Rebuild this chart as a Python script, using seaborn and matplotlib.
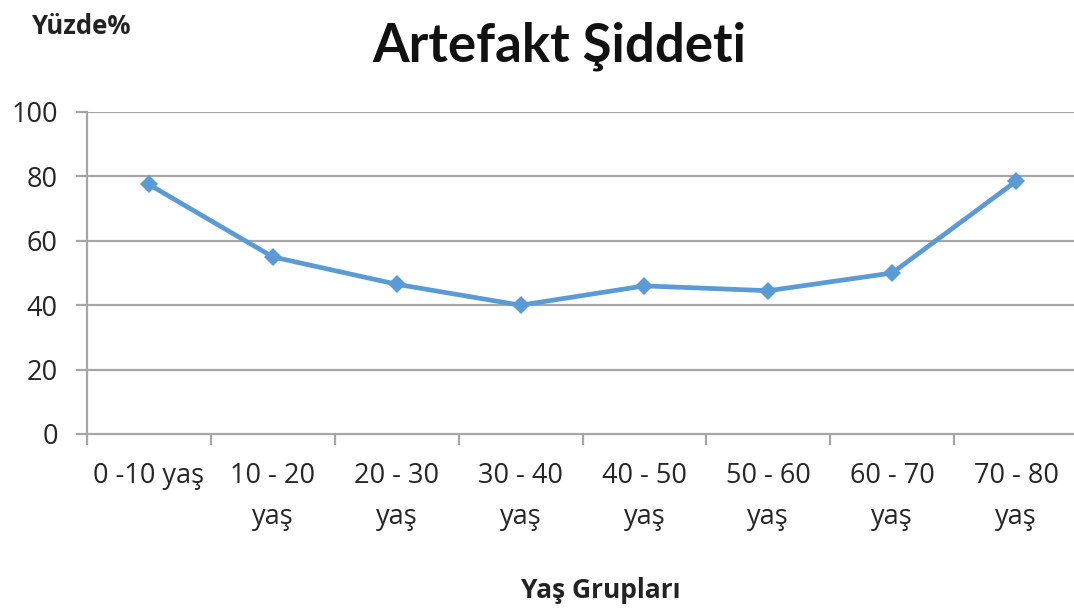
import matplotlib
matplotlib.use("Agg")
import matplotlib.pyplot as plt
import seaborn as sns
import pandas as pd

# Age groups and artefact severity percentages
age_groups = ["0 -10 yaş", "10 - 20\nyaş", "20 - 30\nyaş", "30 - 40\nyaş",
              "40 - 50\nyaş", "50 - 60\nyaş", "60 - 70\nyaş", "70 - 80\nyaş"]
severity = [77.5, 55, 46.5, 40, 46, 44.5, 50, 78.5]
y_ticks = [0, 20, 40, 60, 80, 100]

sns.set_theme(style="white")
plt.rcParams["font.family"] = ["Open Sans", "DejaVu Sans"]

df = pd.DataFrame({"pos": range(len(age_groups)), "value": severity})

fig = plt.figure(figsize=(10.74, 6.08), dpi=100)
ax = fig.add_axes([87 / 1074, 1 - 434 / 608, (1078 - 87) / 1074, (434 - 112) / 608])

grid_color = "#a6a6a6"
text_color = "#262626"
for y in y_ticks[1:]:
    ax.axhline(y, color=grid_color, lw=1.6, zorder=0)

sns.lineplot(data=df, x="pos", y="value", ax=ax, color="#5b9bd5", lw=3.4,
             marker="D", markersize=9, markeredgewidth=0, zorder=3)

ax.set_xlim(-0.5, len(age_groups) - 0.5)
ax.set_ylim(0, 100)
ax.set_yticks(y_ticks)
ax.set_yticklabels([str(v) for v in y_ticks], fontsize=19.5, color=text_color)

# category boundaries carry tick marks, labels sit at the centres
ax.set_xticks([i - 0.5 for i in range(len(age_groups) + 1)])
ax.set_xticklabels([])
ax.set_xticks(range(len(age_groups)), minor=True)
ax.set_xticklabels(age_groups, minor=True, fontsize=19.5, color=text_color,
                   linespacing=1.62, va="top")
ax.tick_params(axis="x", which="major", length=8, width=1.6, color=grid_color, direction="out")
ax.tick_params(axis="x", which="minor", length=0, pad=20)
ax.tick_params(axis="y", length=8, width=1.6, color=grid_color, direction="out", pad=13)
ax.tick_params(axis="x", bottom=True, which="both")
ax.tick_params(axis="y", left=True)

for side in ["top", "right"]:
    ax.spines[side].set_visible(False)
for side in ["left", "bottom"]:
    ax.spines[side].set_color(grid_color)
    ax.spines[side].set_linewidth(1.6)

ax.set_xlabel("")
ax.set_ylabel("")

fig.text(559 / 1074, 1 - 46 / 608, "Artefakt Şiddeti", ha="center", va="center",
         fontsize=38, fontweight="bold", color="#111111", family=["Lato", "DejaVu Sans"])
fig.text(32 / 1074, 1 - 27 / 608, "Yüzde%", ha="left", va="center",
         fontsize=18.5, fontweight="bold", color="#222222")
fig.text(601 / 1074, 1 - 590 / 608, "Yaş Grupları", ha="center", va="center",
         fontsize=19, fontweight="bold", color="#222222")

fig.savefig("out.png", dpi=100)
